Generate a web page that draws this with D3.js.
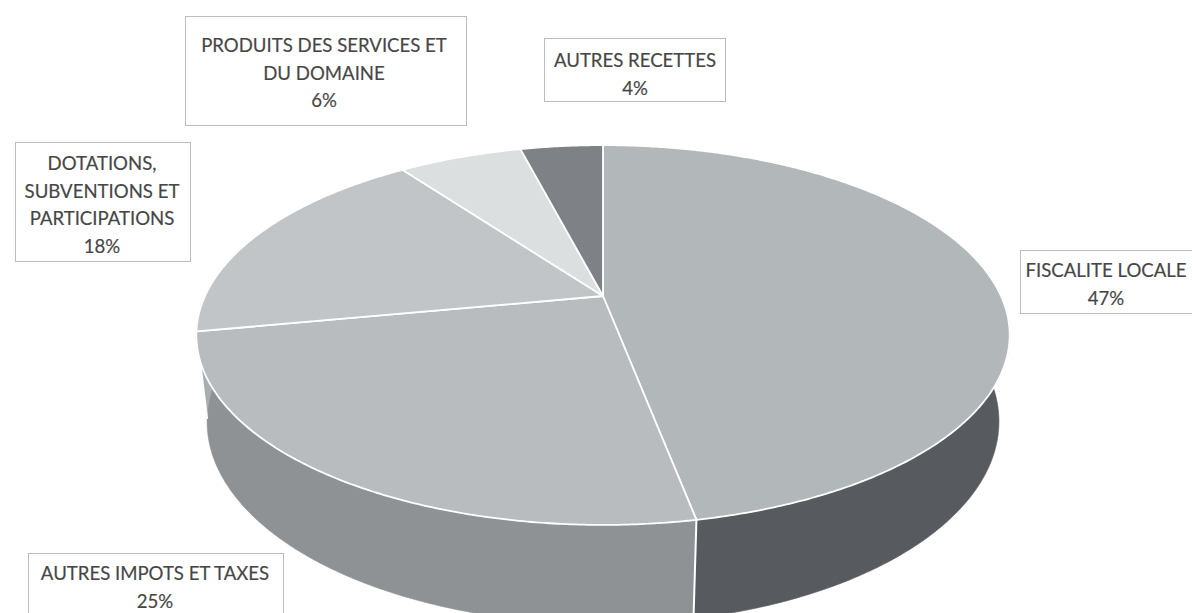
<!DOCTYPE html>
<html>
<head>
<meta charset="utf-8">
<script src="https://cdn.jsdelivr.net/npm/d3@7"></script>
<style>
  html, body { margin: 0; padding: 0; background: #fff; }
  svg { display: block; }
  text { font-family: Lato, "Open Sans", sans-serif; fill: #454545; stroke: #555; stroke-width: 0.2px; }
</style>
</head>
<body>
<svg id="chart" width="1192" height="613"></svg>
<script>
// ---- data ----
const categories = [
  "FISCALITE LOCALE",
  "AUTRES IMPOTS ET TAXES",
  "DOTATIONS, SUBVENTIONS ET PARTICIPATIONS",
  "PRODUITS DES SERVICES ET DU DOMAINE",
  "AUTRES RECETTES"
];
const values = [47, 25, 18, 6, 4];
const labelLines = [
  ["FISCALITE LOCALE"],
  ["AUTRES IMPOTS ET TAXES"],
  ["DOTATIONS,", "SUBVENTIONS ET", "PARTICIPATIONS"],
  ["PRODUITS DES SERVICES ET", "DU DOMAINE"],
  ["AUTRES RECETTES"]
];
const topColors  = ["#b2b7ba", "#b8bcbf", "#c2c5c7", "#dcdfdf", "#7e8286"];
const sideColors = ["#575b5f", "#8e9295", "#a9adb0", "#c8cbcb", "#6a6e72"];

// ---- layout ----
const W = 1192, H = 613;
const svg = d3.select("#chart");
svg.append("rect").attr("width", W).attr("height", H).attr("fill", "#fff");

// 3D projection parameters
const cx = 603, cy = 296, R = 398, depth = 98, D = 1723;
const sa = 0.457, ca = Math.sqrt(1 - sa * sa);
function proj(phi, level, r = R) {
  const x3 = r * Math.sin(phi), z3 = -r * Math.cos(phi), y3 = -level * depth;
  const up = y3 * ca - z3 * sa;
  const w = z3 * ca + y3 * sa;
  const s = D / (D - w);
  return [cx + x3 * s, cy - up * s];
}
function arcPts(a0, a1, level) {
  const n = Math.max(2, Math.ceil(Math.abs(a1 - a0) / (Math.PI / 360)));
  const pts = [];
  for (let i = 0; i <= n; i++) pts.push(proj(a0 + (a1 - a0) * i / n, level));
  return pts;
}

const pie = d3.pie().sort(null).value(d => d).startAngle(0).endAngle(2 * Math.PI);
const arcs = pie(values);
const line = d3.line();
const fmt = d3.format(".0%");
const total = d3.sum(values);

const visA = 80 * Math.PI / 180, visB = 280 * Math.PI / 180;

// sides
const gSide = svg.append("g");
arcs.forEach((a, i) => {
  const s0 = Math.max(a.startAngle, visA), s1 = Math.min(a.endAngle, visB);
  if (s1 <= s0) return;
  const top = arcPts(s0, s1, 0);
  const bot = arcPts(s1, s0, 1);
  gSide.append("path")
    .attr("d", line(top.concat(bot)) + "Z")
    .attr("fill", sideColors[i])
    .attr("stroke", sideColors[i]).attr("stroke-width", 0.6);
});
// side separators
arcs.forEach(a => {
  const ang = a.endAngle;
  if (ang > visA + 0.15 && ang < Math.PI * 1.45) {
    gSide.append("path")
      .attr("d", line([proj(ang, 0), proj(ang, 1)]))
      .attr("stroke", "#fff").attr("stroke-width", 2).attr("fill", "none");
  }
});

// tops
const gTop = svg.append("g");
arcs.forEach((a, i) => {
  const pts = [[cx, cy]].concat(arcPts(a.startAngle, a.endAngle, 0));
  gTop.append("path")
    .attr("d", line(pts) + "Z")
    .attr("fill", topColors[i])
    .attr("stroke", "#fff").attr("stroke-width", 1.8).attr("stroke-linejoin", "round");
});

// ---- labels ----
const labelLayout = [
  { box: [1020, 250, 185, 63], x: 1106, y: 277 },
  { box: [28, 553, 255, 75], x: 155, y: 580 },
  { box: [15, 142, 175, 119], x: 102, y: 170 },
  { box: [185, 16, 281, 109], x: 324, y: 52 },
  { box: [544, 38, 181, 63], x: 635, y: 67 }
];
const lineGap = 27.5;
const gLab = svg.append("g");
arcs.forEach((a, i) => {
  const L = labelLayout[i];
  gLab.append("rect")
    .attr("x", L.box[0] + 0.5).attr("y", L.box[1] + 0.5)
    .attr("width", L.box[2]).attr("height", L.box[3])
    .attr("fill", "#fff").attr("stroke", "#bdbdbd").attr("stroke-width", 1);
  const lines = labelLines[i].concat([fmt(a.data / total)]);
  lines.forEach((t, j) => {
    gLab.append("text")
      .attr("transform", `translate(${L.x},${L.y + j * lineGap}) scale(0.93,1)`)
      .attr("text-anchor", "middle")
      .attr("font-size", 20)
      .text(t);
  });
});
</script>
</body>
</html>
